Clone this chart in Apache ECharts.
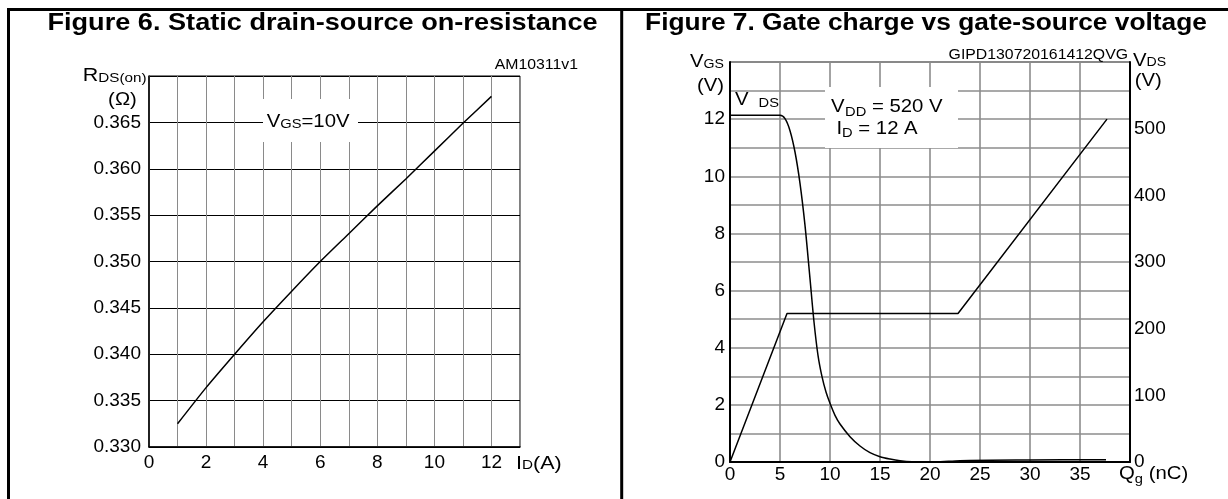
<!DOCTYPE html>
<html><head><meta charset="utf-8">
<script src="https://cdn.jsdelivr.net/npm/echarts@6/dist/echarts.min.js"></script>
<style>html,body{margin:0;padding:0;background:#fff}#c{width:1228px;height:499px}</style>
</head><body><div id="c"></div>
<script>
// ---- Figure 6 data ----
const idA = [1, 2, 3, 4, 5, 6, 7, 8, 9, 10, 11, 12];
const rdsOn = [0.3325, 0.3364, 0.3400, 0.3435, 0.3468, 0.3500, 0.3530, 0.3560, 0.3589, 0.3619, 0.3649, 0.3678];
const fig6XTicks = ['0', '2', '4', '6', '8', '10', '12'];
const fig6YTicks = ['0.330', '0.335', '0.340', '0.345', '0.350', '0.355', '0.360', '0.365'];
// ---- Figure 7 data ----
const qgVgs = [0, 5.7, 22.8, 37.7];
const vgs = [0, 5.2, 5.2, 12.0];
const qgVds = [0, 5.0, 5.5, 6.0, 6.5, 7.0, 7.5, 8.0, 8.4, 8.8, 9.2, 9.6, 10.0, 10.5, 11.0, 12.0, 13.0, 14.0, 15.0, 16.0, 17.0, 18.2, 20.5, 23.0, 30.0, 37.6];
const vds = [520, 520, 515, 497, 465, 418, 355, 275, 210, 160, 128, 105, 88, 70, 57, 38, 24, 14, 8, 4.5, 2, 0.5, 0, 2, 3, 3.5];
const fig7XTicks = ['0', '5', '10', '15', '20', '25', '30', '35'];
const fig7VgsTicks = ['0', '2', '4', '6', '8', '10', '12'];
const fig7VdsTicks = ['0', '100', '200', '300', '400', '500'];

const FF = '"Liberation Sans", Arial, Helvetica, sans-serif';
const SX = 1.13;
const cv = document.createElement('canvas').getContext('2d');
function tw(t, size, bold) { cv.font = (bold ? 'bold ' : '') + size + 'px ' + FF; return cv.measureText(t).width * SX; }
// parts: [text, size, dy, bold, gapBefore]
function label(parts, x, base, align) {
  let total = 0;
  parts.forEach(p => { total += (p[4] || 0) + tw(p[0], p[1], p[3]); });
  let cx = align === 'right' ? x - total : align === 'center' ? x - total / 2 : x;
  const out = [];
  parts.forEach(p => {
    cx += (p[4] || 0);
    out.push({
      type: 'text', x: cx, y: base + (p[2] || 0) - 0.33 * p[1], scaleX: SX, z: 60,
      style: { text: p[0], font: (p[3] ? 'bold ' : '') + p[1] + 'px ' + FF, fill: '#000', align: 'left', verticalAlign: 'middle' }
    });
    cx += tw(p[0], p[1], p[3]);
  });
  return out;
}
function box(x, y, w, h) { return { type: 'rect', z: 55, shape: { x, y, width: w, height: h }, style: { fill: '#fff' } }; }
function ln(x1, y1, x2, y2, w) { return { type: 'line', z: 70, shape: { x1, y1, x2, y2 }, style: { stroke: '#000', lineWidth: w } }; }

function pick(list, f) { return v => { const s = f(v); return list.includes(s) ? s : ''; }; }
const intFmt = v => String(Math.round(v));
const tickFont = { color: '#000', fontSize: 19, fontFamily: FF };

const graphics = [].concat(
  ln(7, 9.5, 1228, 9.5, 3), ln(8.5, 8, 8.5, 499, 3), ln(621.7, 8, 621.7, 499, 3),
  label([['Figure 6. Static drain-source on-resistance', 24, 0, true]], 322.5, 31, 'center'),
  label([['Figure 7. Gate charge vs gate-source voltage', 23.3, 0, true]], 926, 31, 'center'),
  label([['R', 19], ['DS(on)', 13.5]], 82.7, 82.3, 'left'),
  label([['(Ω)', 18]], 122.5, 105.5, 'center'),
  label([['AM10311v1', 14]], 578, 70, 'right'),
  [box(263, 99, 95, 43)],
  label([['V', 18], ['GS', 13], ['=10V', 18]], 266.7, 128.3, 'left'),
  label([['I', 19], ['D', 13.5], ['(A)', 19]], 516, 470, 'left'),
  label([['V', 18], ['GS', 12.5, 0.5]], 724, 68, 'right'),
  label([['(V)', 18]], 724, 91.5, 'right'),
  label([['V', 18], ['DS', 13, 2, false, 10]], 735, 106, 'left'),
  [box(825, 87, 133, 61)],
  label([['V', 18], ['DD', 13, 3, false, 0.5], [' = 520 V', 18]], 831, 113.3, 'left'),
  label([['I', 18], ['D', 13, 3, false, 0], [' = 12 A', 18]], 836.4, 135, 'left'),
  label([['GIPD130720161412QVG', 14]], 1128, 59.3, 'right'),
  label([['V', 18], ['DS', 12.5, 0.5]], 1133, 66.5, 'left'),
  label([['(V)', 18]], 1134.7, 86.5, 'left'),
  label([['Q', 18], ['g', 13, 4], [' (nC)', 18]], 1119, 480, 'left')
);

const chart = echarts.init(document.getElementById('c'), null, { renderer: 'canvas' });
chart.setOption({
  animation: false,
  backgroundColor: '#fff',
  grid: [
    { left: 149, top: 76, width: 371, height: 371, show: true, borderColor: '#000', borderWidth: 1, containLabel: false },
    { left: 730, top: 62, width: 400, height: 400, show: true, borderColor: '#000', borderWidth: 1, containLabel: false }
  ],
  xAxis: [
    { type: 'value', gridIndex: 0, min: 0, max: 13, interval: 1,
      axisLine: { show: true, onZero: false, lineStyle: { color: '#000', width: 1.5 } }, axisTick: { show: false },
      axisLabel: Object.assign({ formatter: pick(fig6XTicks, intFmt), margin: 6, showMaxLabel: false }, tickFont),
      splitLine: { show: true, lineStyle: { color: '#8a8a8a', width: 1 } } },
    { type: 'value', gridIndex: 1, min: 0, max: 40, interval: 5,
      axisLine: { show: true, onZero: false, lineStyle: { color: '#000', width: 2 } }, axisTick: { show: false },
      axisLabel: Object.assign({ formatter: pick(fig7XTicks, intFmt), margin: 3 }, tickFont),
      splitLine: { show: true, lineStyle: { color: '#8c8c8c', width: 1.6 } } }
  ],
  yAxis: [
    { type: 'value', gridIndex: 0, min: 0.330, max: 0.370, interval: 0.005,
      axisLine: { show: true, onZero: false, lineStyle: { color: '#000', width: 1.5 } }, axisTick: { show: false },
      axisLabel: Object.assign({ formatter: pick(fig6YTicks, v => v.toFixed(3)), margin: 8 }, tickFont),
      splitLine: { show: true, lineStyle: { color: '#000', width: 1 } } },
    { type: 'value', gridIndex: 1, min: 0, max: 14, interval: 1, position: 'left',
      axisLine: { show: true, onZero: false, lineStyle: { color: '#000', width: 2 } }, axisTick: { show: false },
      axisLabel: Object.assign({ formatter: pick(fig7VgsTicks, intFmt), margin: 5 }, tickFont),
      splitLine: { show: true, lineStyle: { color: '#8c8c8c', width: 1.6 } } },
    { type: 'value', gridIndex: 1, min: 0, max: 600, interval: 100, position: 'right',
      axisLine: { show: true, onZero: false, lineStyle: { color: '#000', width: 2 } }, axisTick: { show: false },
      axisLabel: Object.assign({ formatter: pick(fig7VdsTicks, intFmt), margin: 4 }, tickFont),
      splitLine: { show: false } }
  ],
  series: [
    { type: 'line', xAxisIndex: 0, yAxisIndex: 0, data: idA.map((x, i) => [x, rdsOn[i]]),
      symbol: 'none', smooth: 0.2, lineStyle: { color: '#000', width: 1.5 }, z: 5 },
    { type: 'line', xAxisIndex: 1, yAxisIndex: 1, data: qgVgs.map((x, i) => [x, vgs[i]]),
      symbol: 'none', lineStyle: { color: '#000', width: 1.5 }, z: 5 },
    { type: 'line', xAxisIndex: 1, yAxisIndex: 2, data: qgVds.map((x, i) => [x, vds[i]]),
      symbol: 'none', smooth: 0.3, lineStyle: { color: '#000', width: 1.5 }, z: 5 }
  ],
  graphic: graphics
});
</script></body></html>
